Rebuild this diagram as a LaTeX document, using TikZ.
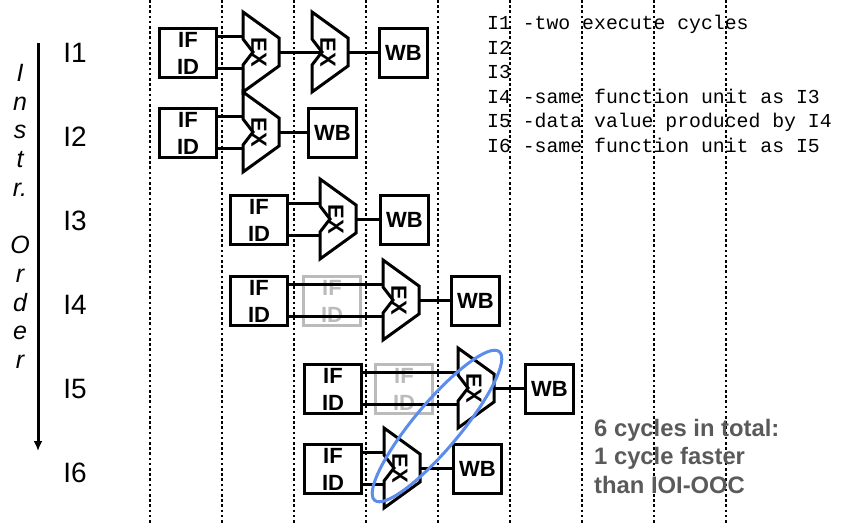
\documentclass[tikz,border=0pt]{standalone}
\usepackage{fontspec}
\usetikzlibrary{arrows.meta}
\setmainfont{Liberation Sans}
\newfontfamily\codefont{Liberation Mono}
\definecolor{faded}{HTML}{BBBBBB}
\definecolor{note}{HTML}{5A5A5A}
\definecolor{oval}{HTML}{5C8CEC}

% one execute unit (ALU outline with a notch); #1 name, #2 left x, #3 top y
\newcommand\exunit[3]{%
  \draw[exline] (#2,#3) -- ++(36,26) -- ++(0,28) -- ++(-36,26) -- ++(0,-27)
    -- ++(10,-13) -- ++(-10,-13) -- cycle;
  \coordinate (#1-a) at (#2,#3+24);
  \coordinate (#1-b) at (#2,#3+56);
  \coordinate (#1-n) at (#2+10,#3+40);
  \coordinate (#1-o) at (#2+36,#3+40);
  \node[extext] (#1) at (#2+16,#3+40) {EX};
}

\begin{document}
\begin{tikzpicture}[x=1pt,y=-1pt,
  stage/.style={draw,line width=3pt,inner sep=0pt,anchor=north west,
    minimum height=49pt,align=center,font=\bfseries\fontsize{22}{27}\selectfont},
  ifid/.style={stage,minimum width=57pt},
  ghost/.style={ifid,draw=faded,text=faded},
  wb/.style={stage,minimum width=48pt},
  exline/.style={line width=3pt,line join=miter},
  extext/.style={rotate=-90,inner sep=0pt,font=\bfseries\fontsize{22}{24}\selectfont},
  wire/.style={line width=3pt},
  cyc/.style={line width=2.8pt,dash pattern=on 2.5pt off 2.7pt},
  row/.style={font=\fontsize{28}{30}\selectfont,inner sep=0pt},
]
\useasboundingbox (0,0) rectangle (855,523);

% cycle boundaries
\foreach \i/\xx in {0/150,1/222,2/294,3/366,4/438,5/510,6/582,7/654,8/726}{
  \coordinate (ct\i) at (\xx,0);
  \coordinate (cb\i) at (\xx,523);
  \draw[cyc] (ct\i) -- (cb\i);
}

% instruction order axis
\coordinate (axtop) at (38,43);
\coordinate (axbot) at (38,451);
\draw[line width=3pt,-{Latex[length=10pt,width=9pt]}] (axtop) -- (axbot);
\node[anchor=north,inner sep=0pt,align=center,
  font=\itshape\fontsize{25}{28.7}\selectfont] (order) at (20,64)
  {I\\n\\s\\t\\r.\\\mbox{}\\O\\r\\d\\e\\r};

\node[row] (l1) at (75,53) {I1};
\node[row] (l2) at (75,137) {I2};
\node[row] (l3) at (75,221) {I3};
\node[row] (l4) at (75,305) {I4};
\node[row] (l5) at (75,389) {I5};
\node[row] (l6) at (75,473) {I6};

% I1: two execute cycles
\node[ifid] (f1) at (158,27) {IF\\ID};
\exunit{e1}{243}{12}
\exunit{e2}{312}{12}
\node[wb] (w1) at (378,27) {WB};
\draw[wire] (f1.east |- e1-a) -- (e1-a);
\draw[wire] (f1.east |- e1-b) -- (e1-b);
\draw[wire] (e1-o) -- (e2-n);
\draw[wire] (e2-o) -- (e2-o -| w1.west);

% I2
\node[ifid] (f2) at (158,107) {IF\\ID};
\exunit{e3}{243}{92}
\node[wb] (w2) at (307,107) {WB};
\draw[wire] (f2.east |- e3-a) -- (e3-a);
\draw[wire] (f2.east |- e3-b) -- (e3-b);
\draw[wire] (e3-o) -- (e3-o -| w2.west);

% I3
\node[ifid] (f3) at (229,194) {IF\\ID};
\exunit{e4}{320}{179}
\node[wb] (w3) at (379,194) {WB};
\draw[wire] (f3.east |- e4-a) -- (e4-a);
\draw[wire] (f3.east |- e4-b) -- (e4-b);
\draw[wire] (e4-o) -- (e4-o -| w3.west);

% I4: stalled behind I3's unit
\node[ifid] (f4) at (229,275) {IF\\ID};
\node[ghost] (g4) at (302,275) {IF\\ID};
\exunit{e5}{383}{260}
\node[wb] (w4) at (450,275) {WB};
\draw[wire] (f4.east |- e5-a) -- (e5-a);
\draw[wire] (f4.east |- e5-b) -- (e5-b);
\draw[wire] (e5-o) -- (e5-o -| w4.west);

% I5: waits for I4's result
\node[ifid] (f5) at (303,363) {IF\\ID};
\node[ghost] (g5) at (374,363) {IF\\ID};
\exunit{e6}{458}{348}
\node[wb] (w5) at (524,363) {WB};
\draw[wire] (f5.east |- e6-a) -- (e6-a);
\draw[wire] (f5.east |- e6-b) -- (e6-b);
\draw[wire] (e6-o) -- (e6-o -| w5.west);

% I6
\node[ifid] (f6) at (303,443) {IF\\ID};
\exunit{e7}{384}{428}
\node[wb] (w6) at (452,443) {WB};
\draw[wire] (f6.east |- e7-a) -- (e7-a);
\draw[wire] (f6.east |- e7-b) -- (e7-b);
\draw[wire] (e7-o) -- (e7-o -| w6.west);

% I5 and I6 execute in the same cycle
\coordinate (oc) at (437,426);
\draw[oval,line width=3pt,rotate around={50:(oc)}] (oc) ellipse [x radius=97, y radius=23];

% notes
\node[anchor=north west,inner sep=0pt,align=left,
  font=\codefont\fontsize{19.8}{24.6}\selectfont] (notes) at (487,15)
  {I1 -two execute cycles\\I2\\I3\\I4 -same function unit as I3\\
   I5 -data value produced by I4\\I6 -same function unit as I5};
\node[anchor=north west,inner sep=0pt,align=left,text=note,
  font=\bfseries\fontsize{23.8}{28.5}\selectfont] (total) at (594,419)
  {6 cycles in total:\\1 cycle faster\\than IOI-OOC};
\end{tikzpicture}
\end{document}
